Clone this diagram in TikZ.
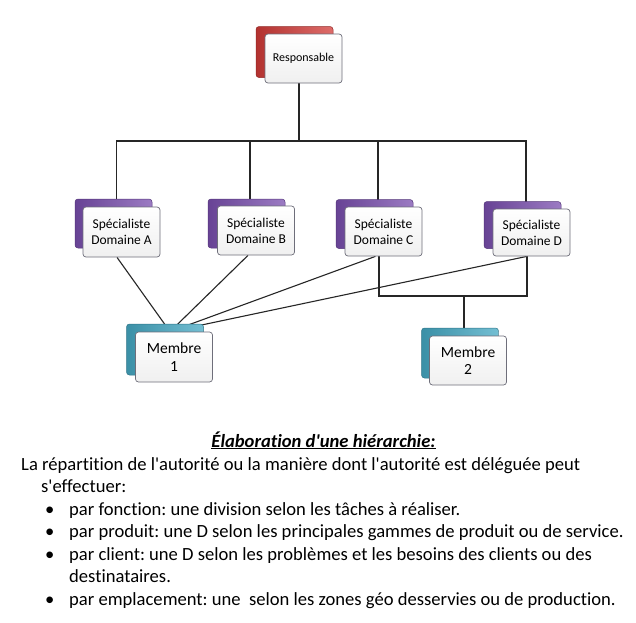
\documentclass[tikz,border=0pt]{standalone}
\usepackage{fontspec}
\setmainfont{Carlito}[Ligatures={CommonOff,TeXOff}]
\frenchspacing
\pgfdeclarelayer{background}
\pgfsetlayers{background,main}
\definecolor{redb}{HTML}{D23B38}
\definecolor{purb}{HTML}{7A4FAF}
\definecolor{tealb}{HTML}{45A9C4}
\definecolor{edge}{HTML}{6E6E7A}
\tikzset{
  front/.style={draw=edge, line width=0.7pt, rounded corners=3pt, top color=white, bottom color=gray!12, align=center, inner sep=0pt, minimum width=77pt},
  backbox/.style={rounded corners=3pt, inner sep=0pt, minimum width=77pt, draw=#1!70!black, line width=0.5pt, left color=#1!85!black, right color=#1!75!white},
  conn/.style={draw=black!85, line width=1.1pt},
  txt/.style={anchor=base west, inner sep=0pt, font=\fontsize{18.6}{22}\selectfont},
  boxtxt/.style={font=\fontsize{13.5}{16}\selectfont},
}
\begin{document}
\frenchspacing
\begin{tikzpicture}[x=1pt,y=-1pt]
\begin{pgfonlayer}{background}
\fill[white] (0,0) rectangle (636,622);
\end{pgfonlayer}
\useasboundingbox (0,0) rectangle (636,622);
% back boxes
\node[backbox=redb, minimum height=51pt] (respS) at (294.5,52) {};
\node[backbox=purb, minimum height=49pt] (specAS) at (113.5,223.5) {};
\node[backbox=purb, minimum height=49pt] (specBS) at (246.5,223.5) {};
\node[backbox=purb, minimum height=49pt] (specCS) at (374.5,224) {};
\node[backbox=purb, minimum height=47pt] (specDS) at (522.5,225) {};
\node[backbox=tealb, minimum height=51pt] (m1S) at (165,349.5) {};
\node[backbox=tealb, minimum height=50pt] (m2S) at (460,353) {};
% front boxes
\node[front, minimum height=49pt, font=\fontsize{12}{14}\selectfont] (resp) at (303.5,58.5) {Responsable};
\node[front, minimum height=50pt, boxtxt] (specA) at (121.5,232) {Spécialiste\\Domaine A};
\node[front, minimum height=49pt, boxtxt] (specB) at (256,230.5) {Spécialiste\\Domaine B};
\node[front, minimum height=49pt, boxtxt] (specC) at (383.5,231.5) {Spécialiste\\Domaine C};
\node[front, minimum height=47pt, boxtxt] (specD) at (531.5,232.5) {Spécialiste\\Domaine D};
\node[front, minimum height=50pt, font=\fontsize{15.5}{17.5}\selectfont] (m1) at (174,357) {Membre\\1};
\node[front, minimum height=49pt, font=\fontsize{15.5}{17.5}\selectfont] (m2) at (468,360.5) {Membre\\2};
\coordinate (barY) at (0,141);
\coordinate (lowY) at (0,296);
\begin{pgfonlayer}{background}
\draw[conn] ([xshift=-4.5pt]resp.south) -- ([xshift=-4.5pt]resp.south |- barY);
\draw[conn] ([xshift=-5pt]specA.north) -- ([xshift=-5pt]specA.north |- barY) -- ([xshift=-5.5pt]specD.north |- barY) -- ([xshift=-5.5pt]specD.north);
\draw[conn] ([xshift=-6pt]specB.north) -- ([xshift=-6pt]specB.north |- barY);
\draw[conn] ([xshift=-5.5pt]specC.north) -- ([xshift=-5.5pt]specC.north |- barY);
\draw[conn] ([xshift=-4.5pt]specA.south) -- ([xshift=-4pt]m1.north);
\draw[conn] ([xshift=-8pt]specB.south) -- ([xshift=-4pt]m1.north);
\draw[conn] ([xshift=-8pt]specC.south) -- ([xshift=-4pt]m1.north);
\draw[conn] ([xshift=-4.5pt]specD.south) -- ([xshift=-4pt]m1.north);
\draw[conn] ([xshift=-4.5pt]specC.south) -- ([xshift=-4.5pt]specC.south |- lowY) -- ([xshift=-4.5pt]specD.south |- lowY) -- ([xshift=-4.5pt]specD.south);
\draw[conn] ([xshift=-4pt]m2.north |- lowY) -- ([xshift=-4pt]m2.north);
\end{pgfonlayer}
% text
\node[anchor=base, inner sep=0pt, font=\fontsize{18.6}{22}\selectfont\bfseries\itshape] (title) at (323.5,447) {\underline{Élaboration d'une hiérarchie:}};
\node[txt] (l1) at (21,470) {La répartition de l'autorité ou la manière dont l'autorité est déléguée peut};
\node[txt] (l2) at (41,492.5) {s'effectuer:};
\node[txt] (b1) at (45,515) {•};
\node[txt] (t1) at (69,515) {par fonction: une division selon les tâches à réaliser.};
\node[txt] (b2) at (45,537.5) {•};
\node[txt] (t2) at (69,537.5) {par produit: une D selon les principales gammes de produit ou de service.};
\node[txt] (b3) at (45,560) {•};
\node[txt] (t3) at (69,560) {par client: une D selon les problèmes et les besoins des clients ou des};
\node[txt] (t3b) at (69,582.5) {destinataires.};
\node[txt] (b4) at (45,605) {•};
\node[txt] (t4) at (69,605) {par emplacement: une\ \ selon les zones géo desservies ou de production.};
\end{tikzpicture}
\end{document}
